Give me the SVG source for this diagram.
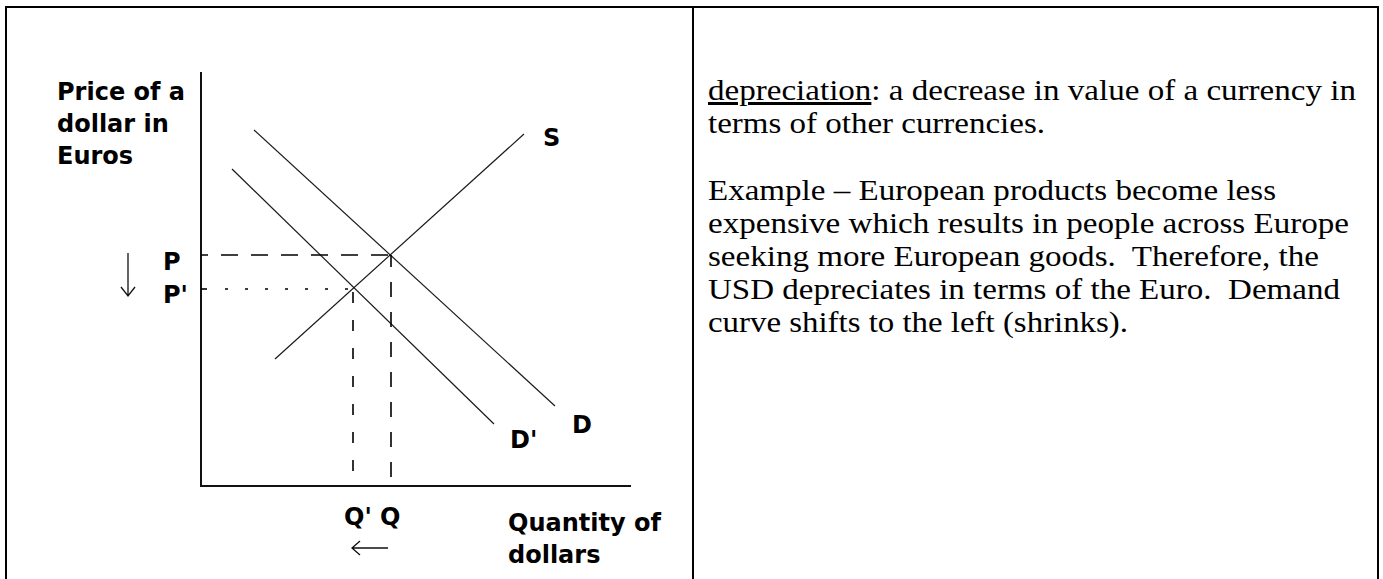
<svg xmlns="http://www.w3.org/2000/svg" width="1383" height="579" viewBox="0 0 1383 579">
  <style>
    .frame { stroke: #000; stroke-width: 2; fill: none; }
    .axis { stroke: #111; stroke-width: 2; fill: none; }
    .curve { stroke: #1a1a1a; stroke-width: 1.2; fill: none; }
    .guide { stroke: #000; stroke-width: 1.6; fill: none; }
    .arrow { stroke: #111; stroke-width: 1.3; fill: none; }
    .lbl { font-family: "DejaVu Sans", "Liberation Sans", sans-serif; font-weight: bold; font-size: 24px; fill: #000; }
    .body { font-family: "Times New Roman", "Liberation Serif", serif; font-size: 30px; fill: #000; white-space: pre; }
  </style>
  <rect width="1383" height="579" fill="#fff"/>

  <g id="frame">
    <line class="frame" x1="5" y1="7" x2="1379" y2="7"/>
    <line class="frame" x1="6" y1="6" x2="6" y2="579"/>
    <line class="frame" x1="693" y1="6" x2="693" y2="579"/>
    <line class="frame" x1="1378" y1="6" x2="1378" y2="579"/>
  </g>

  <g id="axes">
    <line class="axis" x1="201" y1="72" x2="201" y2="487"/>
    <line class="axis" x1="200" y1="486" x2="631" y2="486"/>
  </g>

  <g id="connectors">
    <line id="supply" class="curve" x1="275" y1="359" x2="524" y2="134"/>
    <line id="demand" class="curve" x1="254" y1="130" x2="555" y2="406"/>
    <line id="demand-shifted" class="curve" x1="232" y1="169" x2="494" y2="424"/>
    <line id="p-guide" class="guide" x1="201" y1="255" x2="391" y2="255" stroke-dasharray="17 13" stroke-dashoffset="10"/>
    <line id="p2-tick" class="guide" x1="201" y1="289" x2="207" y2="289"/>
    <line id="p2-guide" class="guide" x1="225" y1="289" x2="353" y2="289" stroke-dasharray="3 17"/>
    <line id="q-guide" class="guide" x1="391" y1="255" x2="391" y2="486" stroke-dasharray="15 15" stroke-dashoffset="3"/>
    <line id="q2-guide" class="guide" x1="353" y1="289" x2="353" y2="486" stroke-dasharray="11 17" stroke-dashoffset="-3"/>
    <path id="down-arrow" class="arrow" d="M128 253 V296 M121 287 L128 296 L135 287"/>
    <path id="left-arrow" class="arrow" d="M352 548 H388 M360 541 L352 548 L360 555"/>
  </g>

  <g id="y-axis-label">
    <text class="lbl" x="57" y="100">Price of a</text>
    <text class="lbl" x="57" y="132">dollar in</text>
    <text class="lbl" x="57" y="164">Euros</text>
  </g>
  <g id="x-axis-label">
    <text class="lbl" x="508" y="531">Quantity of</text>
    <text class="lbl" x="508" y="563">dollars</text>
  </g>
  <g id="label-P"><text class="lbl" x="163" y="270">P</text></g>
  <g id="label-P2"><text class="lbl" x="163" y="303">P'</text></g>
  <g id="label-S"><text class="lbl" x="543" y="146">S</text></g>
  <g id="label-D"><text class="lbl" x="572" y="433">D</text></g>
  <g id="label-D2"><text class="lbl" x="510" y="448">D'</text></g>
  <g id="label-Q2"><text class="lbl" x="344" y="525">Q'</text></g>
  <g id="label-Q"><text class="lbl" x="380" y="525">Q</text></g>

  <g id="text-panel">
    <text class="body" x="708" y="100" textLength="648" lengthAdjust="spacingAndGlyphs"><tspan text-decoration="underline">depreciation</tspan>: a decrease in value of a currency in</text>
    <text class="body" x="708" y="133" textLength="337" lengthAdjust="spacingAndGlyphs">terms of other currencies.</text>
    <text class="body" x="708" y="200" textLength="568" lengthAdjust="spacingAndGlyphs">Example – European products become less</text>
    <text class="body" x="708" y="233" textLength="641" lengthAdjust="spacingAndGlyphs">expensive which results in people across Europe</text>
    <text class="body" x="708" y="266" textLength="611" lengthAdjust="spacingAndGlyphs">seeking more European goods.  Therefore, the</text>
    <text class="body" x="708" y="299" textLength="632" lengthAdjust="spacingAndGlyphs">USD depreciates in terms of the Euro.  Demand</text>
    <text class="body" x="708" y="332" textLength="420" lengthAdjust="spacingAndGlyphs">curve shifts to the left (shrinks).</text>
  </g>
</svg>
